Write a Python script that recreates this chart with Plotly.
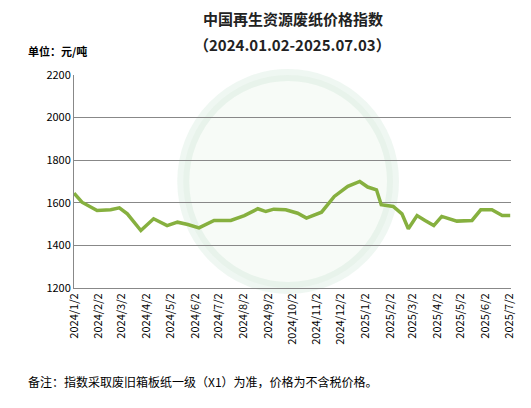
import plotly.graph_objects as go

dates = ['2024-01-02', '2024-01-12', '2024-01-31', '2024-02-17', '2024-02-28', '2024-03-09',
         '2024-03-26', '2024-04-11', '2024-04-28', '2024-05-11', '2024-05-24', '2024-06-07',
         '2024-06-26', '2024-07-17', '2024-08-03', '2024-08-20', '2024-08-30', '2024-09-09',
         '2024-09-24', '2024-10-09', '2024-10-20', '2024-11-08', '2024-11-24', '2024-12-11',
         '2024-12-26', '2025-01-05', '2025-01-16', '2025-01-22', '2025-02-06', '2025-02-17',
         '2025-02-25', '2025-03-08', '2025-03-18', '2025-03-29', '2025-04-08', '2025-04-27',
         '2025-05-16', '2025-05-27', '2025-06-10', '2025-06-23', '2025-07-03']
prices = [1645, 1603, 1564, 1567, 1576, 1548, 1470, 1525, 1493, 1509, 1498, 1482,
          1517, 1517, 1540, 1572, 1559, 1570, 1567, 1551, 1528, 1556, 1630, 1677,
          1700, 1674, 1661, 1591, 1583, 1548, 1478, 1540, 1517, 1493, 1536, 1514,
          1517, 1567, 1567, 1540, 1540]

tick_dates = ['2024-%02d-02' % m for m in range(1, 13)] + ['2025-%02d-02' % m for m in range(1, 8)]
tick_labels = ['2024/%d/2' % m for m in range(1, 13)] + ['2025/%d/2' % m for m in range(1, 8)]

fig = go.Figure()
fig.add_trace(go.Scatter(x=dates, y=prices, mode='lines', line=dict(color='#86b03f', width=3.5),
                         showlegend=False))

# faint watermark circle
fig.add_shape(type='circle', xref='paper', yref='paper', x0=0.25, x1=0.73, y0=0.0, y1=1.0,
              line=dict(color='rgba(150,200,170,0.15)', width=12), fillcolor='rgba(215,235,215,0.2)',
              layer='below')

fig.update_layout(
    width=531, height=408, margin=dict(l=66, r=28, t=67, b=128),
    paper_bgcolor='white', plot_bgcolor='white',
    font=dict(family='Noto Sans CJK SC', size=12, color='black'),
    xaxis=dict(type='date', range=['2024-01-02', '2025-07-04'], tickvals=tick_dates,
               ticktext=tick_labels, tickangle=-90, showgrid=False, showline=True,
               linecolor='#888', tickfont=dict(size=11)),
    yaxis=dict(range=[1200, 2200], dtick=200, gridcolor='#888', showline=True,
               linecolor='#888', tickfont=dict(size=11), zeroline=False),
)
fig.add_annotation(text='<b>中国再生资源废纸价格指数</b>', xref='paper', yref='paper', x=0.5, y=1.325,
                   showarrow=False, font=dict(size=15, color='#222'))
fig.add_annotation(text='<b>（2024.01.02-2025.07.03）</b>', xref='paper', yref='paper', x=0.5, y=1.2,
                   showarrow=False, font=dict(size=15, color='#222'))
fig.add_annotation(text='<b>单位：元/吨</b>', xref='paper', yref='paper', x=-0.11, y=1.16,
                   xanchor='left', showarrow=False, font=dict(size=11))
fig.add_annotation(text='备注：指数采取废旧箱板纸一级（X1）为准，价格为不含税价格。', xref='paper',
                   yref='paper', x=-0.11, y=-0.49, xanchor='left', showarrow=False,
                   font=dict(size=12))
fig.write_html('out.html')
